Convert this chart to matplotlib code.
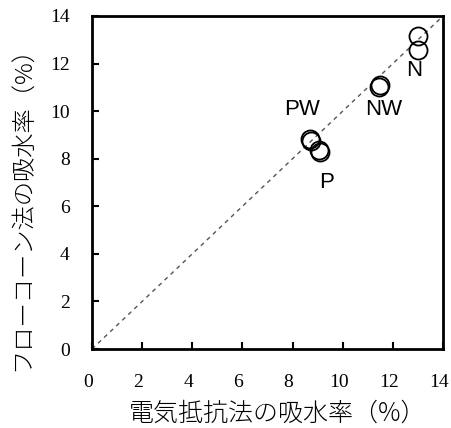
import matplotlib.pyplot as plt
import matplotlib.transforms as mtransforms

plt.rcParams['font.family'] = ['Noto Sans CJK JP', 'DejaVu Sans']

# electrical resistance method vs flow cone method, absorption (%)
x_elec = [8.70, 8.74, 9.05, 9.09, 11.45, 11.50, 13.02, 13.02]
y_flow = [8.83, 8.74, 8.36, 8.28, 11.03, 11.10, 13.16, 12.57]

labels = ['PW', 'P', 'NW', 'N']
label_x = [8.38, 9.35, 11.65, 12.86]
label_y = [10.09, 7.00, 10.09, 11.69]

ticks = [0, 2, 4, 6, 8, 10, 12, 14]

fig = plt.figure(figsize=(4.51, 4.28), dpi=100)
ax = fig.add_axes([92/451, 1 - 349/428, 351/451, 333/428])

# 1:1 reference line
ax.plot([0, 14], [0, 14], color='#555555', linestyle=(0, (3, 3)), linewidth=1.0)

ax.plot(x_elec, y_flow, 'o', markersize=13, markerfacecolor='none',
        markeredgecolor='black', markeredgewidth=1.3)

for t, lx, ly in zip(labels, label_x, label_y):
    ax.text(lx, ly, t, ha='center', va='center', fontsize=16,
            family='Liberation Sans')

ax.set_xlim(0, 14)
ax.set_ylim(0, 14)
ax.set_xticks(ticks)
ax.set_yticks(ticks)
ax.tick_params(direction='in', length=5, width=1.5, labelsize=14)
ax.tick_params(axis='x', pad=18)
ax.tick_params(axis='y', pad=16)
shift = mtransforms.ScaledTranslation(-4/100, 0, fig.dpi_scale_trans)
for lab in ax.get_xticklabels():
    lab.set_family('Liberation Serif')
    lab.set_transform(lab.get_transform() + shift)
for lab in ax.get_yticklabels():
    lab.set_family('Liberation Serif')
for s in ax.spines.values():
    s.set_linewidth(2)

ax.set_xlabel('電気抵抗法の吸水率（%）', fontsize=18, fontweight='light')
ax.set_ylabel('フローコーン法の吸水率（%）', fontsize=17.5, fontweight='light')
ax.xaxis.set_label_coords(0.53, -0.155)
ax.yaxis.set_label_coords(-0.16, 0.44)

fig.savefig('out.png', dpi=100)
